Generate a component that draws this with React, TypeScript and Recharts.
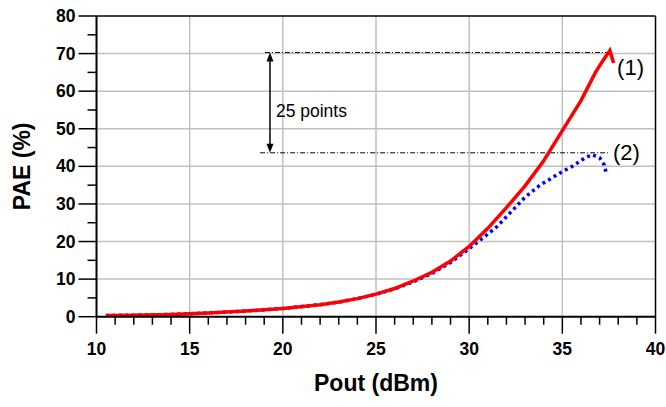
import React from "react";
import {
  Line,
  LineChart,
  ReferenceDot,
  ReferenceLine,
  XAxis,
  YAxis,
} from "recharts";

// curve (1)
const pout1 = [10.5, 12, 14, 15, 16, 18, 20, 22, 23, 24, 25, 26, 27, 28, 29, 30, 31, 32, 33, 34, 35, 36, 36.8, 37.2, 37.55, 37.75];
const pae1 = [0.3, 0.4, 0.6, 0.8, 1.0, 1.5, 2.2, 3.2, 3.9, 4.8, 6.0, 7.5, 9.5, 11.8, 14.8, 18.7, 23.5, 29.0, 34.8, 41.5, 49.5, 57.5, 65.2, 68.3, 70.8, 67.5];

// curve (2)
const pout2 = [10.5, 12, 14, 15, 16, 18, 20, 22, 23, 24, 25, 26, 27, 28, 29, 30, 30.75, 31.5, 32, 33, 33.8, 34.9, 35.6, 36.2, 36.6, 37.0, 37.25, 37.35];
const pae2 = [0.3, 0.4, 0.6, 0.8, 1.0, 1.5, 2.2, 3.2, 3.9, 4.8, 6.0, 7.4, 9.3, 11.5, 14.4, 18.1, 21.0, 24.0, 26.6, 31.8, 35.0, 38.3, 40.2, 42.2, 43.1, 42.3, 40.4, 38.3];

// axes
const xTicks = Array.from({ length: 31 }, (_, i) => 10 + i);
const yTicks = Array.from({ length: 17 }, (_, i) => i * 5);
const xGrid = [15, 20, 25, 30, 35];
const yGrid = [10, 20, 30, 40, 50, 60, 70];

// annotations
const peak1 = 70.3;
const peak2 = 43.6;

const series1 = pout1.map((x, i) => ({ x, y: pae1[i] }));
const series2 = pout2.map((x, i) => ({ x, y: pae2[i] }));

const FONT = "'Liberation Sans', Arial, sans-serif";

const XTick = ({ x, y, payload }: any) => {
  const major = payload.value % 5 === 0;
  return (
    <g>
      <line x1={x} y1={y} x2={x} y2={y + (major ? 17 : 8)} stroke="#000" strokeWidth={1.5} />
      {major && (
        <text x={x} y={y + 32} textAnchor="middle" dominantBaseline="central" fontFamily={FONT} fontWeight="bold" fontSize={17.5} fill="#000">
          {payload.value}
        </text>
      )}
    </g>
  );
};

const YTick = ({ x, y, payload }: any) => {
  const major = payload.value % 10 === 0;
  return (
    <g>
      <line x1={x - (major ? 18 : 9)} y1={y} x2={x} y2={y} stroke="#000" strokeWidth={1.5} />
      {major && (
        <text x={x - 21} y={y} textAnchor="end" dominantBaseline="central" fontFamily={FONT} fontWeight="bold" fontSize={17.5} fill="#000">
          {payload.value}
        </text>
      )}
    </g>
  );
};

const XTitle = ({ viewBox }: any) => (
  <text x={viewBox.x + viewBox.width / 2} y={viewBox.y + 66} textAnchor="middle" dominantBaseline="central" fontFamily={FONT} fontWeight="bold" fontSize={23} fill="#000">
    Pout (dBm)
  </text>
);

const YTitle = ({ viewBox }: any) => {
  const cx = 22;
  const cy = viewBox.y + viewBox.height / 2;
  return (
    <text x={cx} y={cy} transform={`rotate(-90 ${cx} ${cy})`} textAnchor="middle" dominantBaseline="central" fontFamily={FONT} fontWeight="bold" fontSize={23} fill="#000">
      PAE (%)
    </text>
  );
};

const DoubleArrow = ({ x1, y1, x2, y2 }: any) => {
  const top = Math.min(y1, y2);
  const bot = Math.max(y1, y2);
  return (
    <g>
      <line x1={x1} y1={top + 6} x2={x2} y2={bot - 6} stroke="#000" strokeWidth={1.5} />
      <polygon points={`${x1},${top} ${x1 - 3.5},${top + 9} ${x1 + 3.5},${top + 9}`} fill="#000" />
      <polygon points={`${x1},${bot} ${x1 - 3.5},${bot - 9} ${x1 + 3.5},${bot - 9}`} fill="#000" />
    </g>
  );
};

const textShape = (value: string, size: number, weight = "normal") => (p: any) => (
  <text x={p.cx} y={p.cy} dominantBaseline="central" fontFamily={FONT} fontSize={size} fontWeight={weight} fill="#000">
    {value}
  </text>
);

export default function App() {
  return (
    <div style={{ position: "absolute", left: 0, top: 0 }}>
      <LineChart width={666} height={407} margin={{ top: 16, right: 10.5, bottom: 30.3, left: 0 }}>
        <XAxis
          type="number"
          dataKey="x"
          domain={[10, 40]}
          ticks={xTicks}
          interval={0}
          tickSize={0}
          tickMargin={0}
          height={60}
          tick={<XTick />}
          axisLine={{ stroke: "#000", strokeWidth: 2 }}
          tickLine={false}
          allowDataOverflow
          label={<XTitle />}
        />
        <YAxis
          type="number"
          dataKey="y"
          domain={[0, 80]}
          ticks={yTicks}
          interval={0}
          tickSize={0}
          tickMargin={0}
          width={96.5}
          tick={<YTick />}
          axisLine={{ stroke: "#000", strokeWidth: 2 }}
          tickLine={false}
          allowDataOverflow
          label={<YTitle />}
        />
        {xGrid.map((v) => (
          <ReferenceLine key={`gx${v}`} x={v} stroke="#c0c0c0" strokeWidth={1.5} />
        ))}
        {yGrid.map((v) => (
          <ReferenceLine key={`gy${v}`} y={v} stroke="#c0c0c0" strokeWidth={1.5} />
        ))}
        <ReferenceLine y={80} stroke="#000" strokeWidth={1.5} />
        <ReferenceLine x={40} stroke="#000" strokeWidth={1.5} />
        <ReferenceLine segment={[{ x: 19.04, y: peak1 }, { x: 37.4, y: peak1 }]} stroke="#000" strokeWidth={1} strokeDasharray="5 2 1 2" />
        <ReferenceLine segment={[{ x: 18.78, y: peak2 }, { x: 37.45, y: peak2 }]} stroke="#000" strokeWidth={1} strokeDasharray="5 2 1 2" />
        <ReferenceLine segment={[{ x: 19.31, y: peak1 }, { x: 19.31, y: peak2 }]} shape={<DoubleArrow />} />
        <ReferenceDot x={19.63} y={54.7} r={0} shape={textShape("25 points", 17.5)} />
        <ReferenceDot x={37.94} y={66.4} r={0} shape={textShape("(1)", 22)} />
        <ReferenceDot x={37.72} y={43.6} r={0} shape={textShape("(2)", 22)} />
        <Line
          data={series2}
          dataKey="y"
          type="linear"
          stroke="#0000ff"
          strokeWidth={3.5}
          strokeDasharray="3 3.5"
          dot={false}
          isAnimationActive={false}
        />
        <Line
          data={series1}
          dataKey="y"
          type="linear"
          stroke="#ff0000"
          strokeWidth={3.5}
          dot={false}
          isAnimationActive={false}
        />
      </LineChart>
    </div>
  );
}
